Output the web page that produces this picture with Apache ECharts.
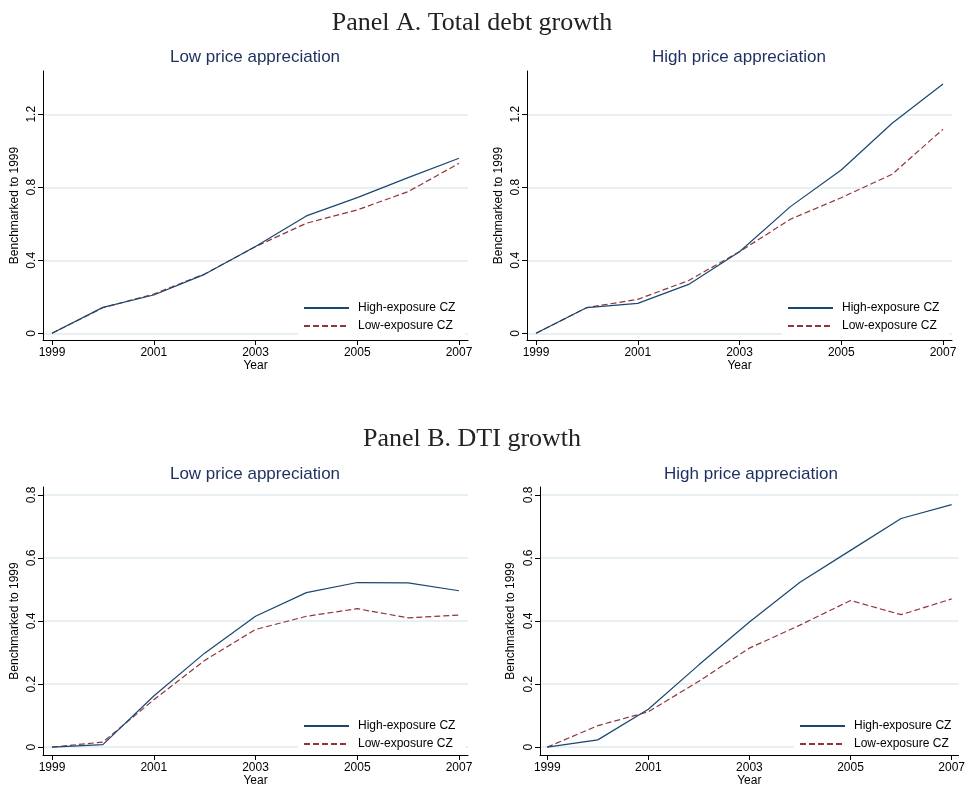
<!DOCTYPE html>
<html>
<head>
<meta charset="utf-8">
<script src="https://cdn.jsdelivr.net/npm/echarts@6/dist/echarts.min.js"></script>
<style>html,body{margin:0;padding:0;background:#fff;}#chart{width:968px;height:788px;}</style>
</head>
<body>
<div id="chart"></div>
<script>
const years = [1999, 2000, 2001, 2002, 2003, 2004, 2005, 2006, 2007];
const yearTicks = [1999, 2001, 2003, 2005, 2007];
const debtTicks = [0, 0.4, 0.8, 1.2];
const dtiTicks = [0, 0.2, 0.4, 0.6, 0.8];
const seriesNames = ['High-exposure CZ', 'Low-exposure CZ'];
const panelTitles = ['Panel A. Total debt growth', 'Panel B. DTI growth'];
const subTitles = ['Low price appreciation', 'High price appreciation'];

// Panel A: total debt growth
const debtLowHigh = [0, 0.142, 0.210, 0.323, 0.475, 0.643, 0.743, 0.853, 0.959];
const debtLowLow  = [0, 0.140, 0.215, 0.325, 0.475, 0.603, 0.676, 0.776, 0.931];
const debtHighHigh = [0, 0.141, 0.164, 0.268, 0.447, 0.694, 0.895, 1.151, 1.366];
const debtHighLow  = [0, 0.141, 0.186, 0.289, 0.447, 0.625, 0.743, 0.871, 1.118];
// Panel B: DTI growth
const dtiLowHigh = [0, 0.008, 0.162, 0.298, 0.415, 0.490, 0.522, 0.521, 0.496];
const dtiLowLow  = [0, 0.016, 0.150, 0.275, 0.373, 0.415, 0.439, 0.410, 0.419];
const dtiHighHigh = [0, 0.023, 0.120, 0.261, 0.397, 0.523, 0.624, 0.725, 0.769];
const dtiHighLow  = [0, 0.068, 0.112, 0.209, 0.314, 0.387, 0.465, 0.420, 0.470];

const NAVY = '#1a476f', MAROON = '#90353b', TITLE = '#1c2f5e', GRIDC = '#e8f0f2';
const SANS = 'Liberation Sans, Arial, Helvetica, sans-serif';

const panels = [
  {grid:{left:43, right:500, top:71, bottom:448}, xr:[1998.823, 2007.177], yr:[-0.0367, 1.437], ticks:debtTicks, hi:debtLowHigh, lo:debtLowLow, legend:{left:298, top:298}, yGap:22},
  {grid:{left:527, right:16, top:71, bottom:448}, xr:[1998.823, 2007.177], yr:[-0.0367, 1.437], ticks:debtTicks, hi:debtHighHigh, lo:debtHighLow, legend:{left:782, top:298}, yGap:22},
  {grid:{left:43, right:500, top:487, bottom:30}, xr:[1998.823, 2007.177], yr:[-0.025, 0.825], ticks:dtiTicks, hi:dtiLowHigh, lo:dtiLowLow, legend:{left:298, top:716}, yGap:22},
  {grid:{left:540, right:6, top:487, bottom:30}, xr:[1998.857, 2007.137], yr:[-0.025, 0.825], ticks:dtiTicks, hi:dtiHighHigh, lo:dtiHighLow, legend:{left:794, top:716}, yGap:23}
];

const grids = [], xAxes = [], yAxes = [], series = [], legends = [];
panels.forEach((p, i) => {
  grids.push(p.grid);
  xAxes.push({
    type:'value', gridIndex:i, min:p.xr[0], max:p.xr[1],
    name:'Year', nameLocation:'middle', nameGap:20, nameMoveOverlap:false,
    nameTextStyle:{color:'#000', fontFamily:SANS, fontSize:12},
    axisLine:{show:true, onZero:false, lineStyle:{color:'#000', width:1}},
    axisTick:{show:true, length:5, customValues:yearTicks, lineStyle:{color:'#000'}},
    axisLabel:{customValues:yearTicks, color:'#000', fontFamily:SANS, fontSize:12, margin:7,
      formatter:v => String(Math.round(v))},
    splitLine:{show:false}
  });
  yAxes.push({
    type:'value', gridIndex:i, min:p.yr[0], max:p.yr[1],
    name:'Benchmarked to 1999', nameLocation:'middle', nameGap:p.yGap, nameRotate:90, nameMoveOverlap:false,
    nameTextStyle:{color:'#000', fontFamily:SANS, fontSize:12},
    axisLine:{show:true, onZero:false, lineStyle:{color:'#000', width:1}},
    axisTick:{show:true, length:5, customValues:p.ticks, lineStyle:{color:'#000'}},
    axisLabel:{customValues:p.ticks, rotate:90, color:'#000', fontFamily:SANS, fontSize:12, margin:5,
      formatter:v => String(+v.toFixed(2))},
    splitLine:{show:true, lineStyle:{color:GRIDC, width:2}}
  });
  series.push({
    name:seriesNames[0], type:'line', xAxisIndex:i, yAxisIndex:i, symbol:'none',
    data:years.map((y, k) => [y, p.hi[k]]),
    lineStyle:{color:NAVY, width:1.2}, itemStyle:{color:NAVY}, z:3, animation:false
  });
  series.push({
    name:seriesNames[1], type:'line', xAxisIndex:i, yAxisIndex:i, symbol:'none',
    data:years.map((y, k) => [y, p.lo[k]]),
    lineStyle:{color:MAROON, width:1.2, type:[6,3]}, itemStyle:{color:MAROON}, z:2, animation:false
  });
  legends.push({
    data:seriesNames, orient:'vertical', left:p.legend.left, top:p.legend.top,
    backgroundColor:'#fff', padding:[4,10,5,5], itemGap:6, itemWidth:45, itemHeight:12,
    lineStyle:{width:2}, itemStyle:{opacity:0}, selectedMode:false,
    textStyle:{color:'#000', fontFamily:SANS, fontSize:12, padding:[0,0,0,4]}
  });
});

const titles = [
  {text:panelTitles[0], left:472, top:23},
  {text:panelTitles[1], left:472, top:439}
].map(t => ({text:t.text, left:t.left, top:t.top, textAlign:'center', textVerticalAlign:'middle', padding:0,
  textStyle:{fontFamily:'Liberation Serif, Times New Roman, serif', fontWeight:'normal', fontSize:26, color:'#222'}}));
[
  {text:subTitles[0], left:255, top:57},
  {text:subTitles[1], left:739, top:57},
  {text:subTitles[0], left:255, top:474},
  {text:subTitles[1], left:751, top:474}
].forEach(t => titles.push({text:t.text, left:t.left, top:t.top, textAlign:'center', textVerticalAlign:'middle', padding:0,
  textStyle:{fontFamily:SANS, fontWeight:'normal', fontSize:17, color:TITLE}}));

const chart = echarts.init(document.getElementById('chart'), null, {renderer:'canvas'});
chart.setOption({
  backgroundColor:'#fff', animation:false,
  title:titles, grid:grids, xAxis:xAxes, yAxis:yAxes, series:series, legend:legends
});
</script>
</body>
</html>
